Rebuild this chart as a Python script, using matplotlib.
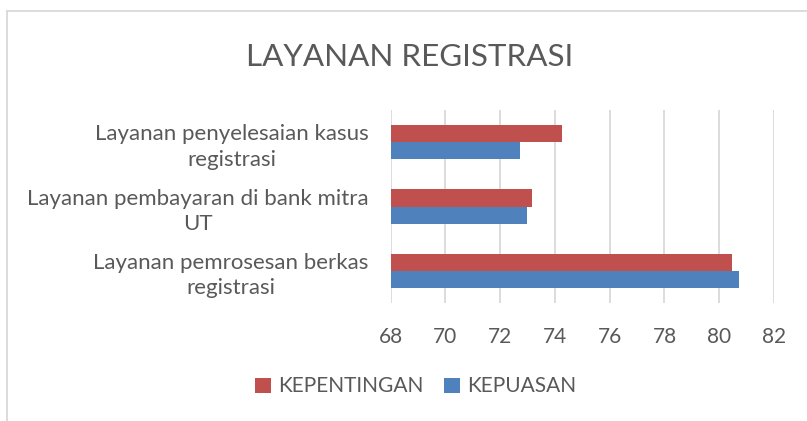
import matplotlib.pyplot as plt
import numpy as np

plt.rcParams['font.family'] = ['Lato', 'DejaVu Sans']

# data, bottom to top
categories = ['Layanan pemrosesan berkas\nregistrasi',
              'Layanan pembayaran di bank mitra\nUT',
              'Layanan penyelesaian kasus\nregistrasi']
kepentingan = [80.46, 73.16, 74.26]
kepuasan = [80.71, 72.97, 72.72]
xticks = [68, 70, 72, 74, 76, 78, 80, 82]

red = '#C0504D'
blue = '#4F81BD'
grey_text = '#595959'

fig = plt.figure(figsize=(8.07, 4.21), dpi=100)
ax = fig.add_axes([0.4841, 0.2803, 0.4750, 0.4584])

y = np.arange(len(categories))
h = 0.265
ax.barh(y + h / 2, kepentingan, height=h, color=red, label='KEPENTINGAN', zorder=3)
ax.barh(y - h / 2, kepuasan, height=h, color=blue, label='KEPUASAN', zorder=3)

ax.set_xlim(68, 82)
ax.set_ylim(-0.5, 2.5)
ax.set_xticks(xticks)
ax.set_yticks(y)
ax.set_yticklabels(categories, multialignment='center', linespacing=1.35)
ax.grid(axis='x', color='#d9d9d9', linewidth=1.3, zorder=0)
for s in ax.spines.values():
    s.set_visible(False)
ax.tick_params(axis='both', length=0, colors=grey_text)
ax.tick_params(axis='x', pad=17, labelsize=15)
ax.tick_params(axis='y', pad=16, labelsize=16)

fig.text(0.508, 0.865, 'LAYANAN REGISTRASI', ha='center', va='center',
         fontsize=22.6, color=grey_text)

fig.legend(loc='center', bbox_to_anchor=(0.515, 0.082), ncol=2, frameon=False,
           fontsize=15, labelcolor=grey_text, handlelength=0.75, handleheight=0.75,
           handletextpad=0.35, columnspacing=1.0)

# outer chart border (cropped at right and bottom)
fig.add_artist(plt.Line2D([0.0085, 1.0], [0.974, 0.974], color='#d9d9d9', lw=1.3))
fig.add_artist(plt.Line2D([0.0085, 0.0085], [0.0, 0.974], color='#d9d9d9', lw=1.3))

fig.savefig('out.png', dpi=100)
